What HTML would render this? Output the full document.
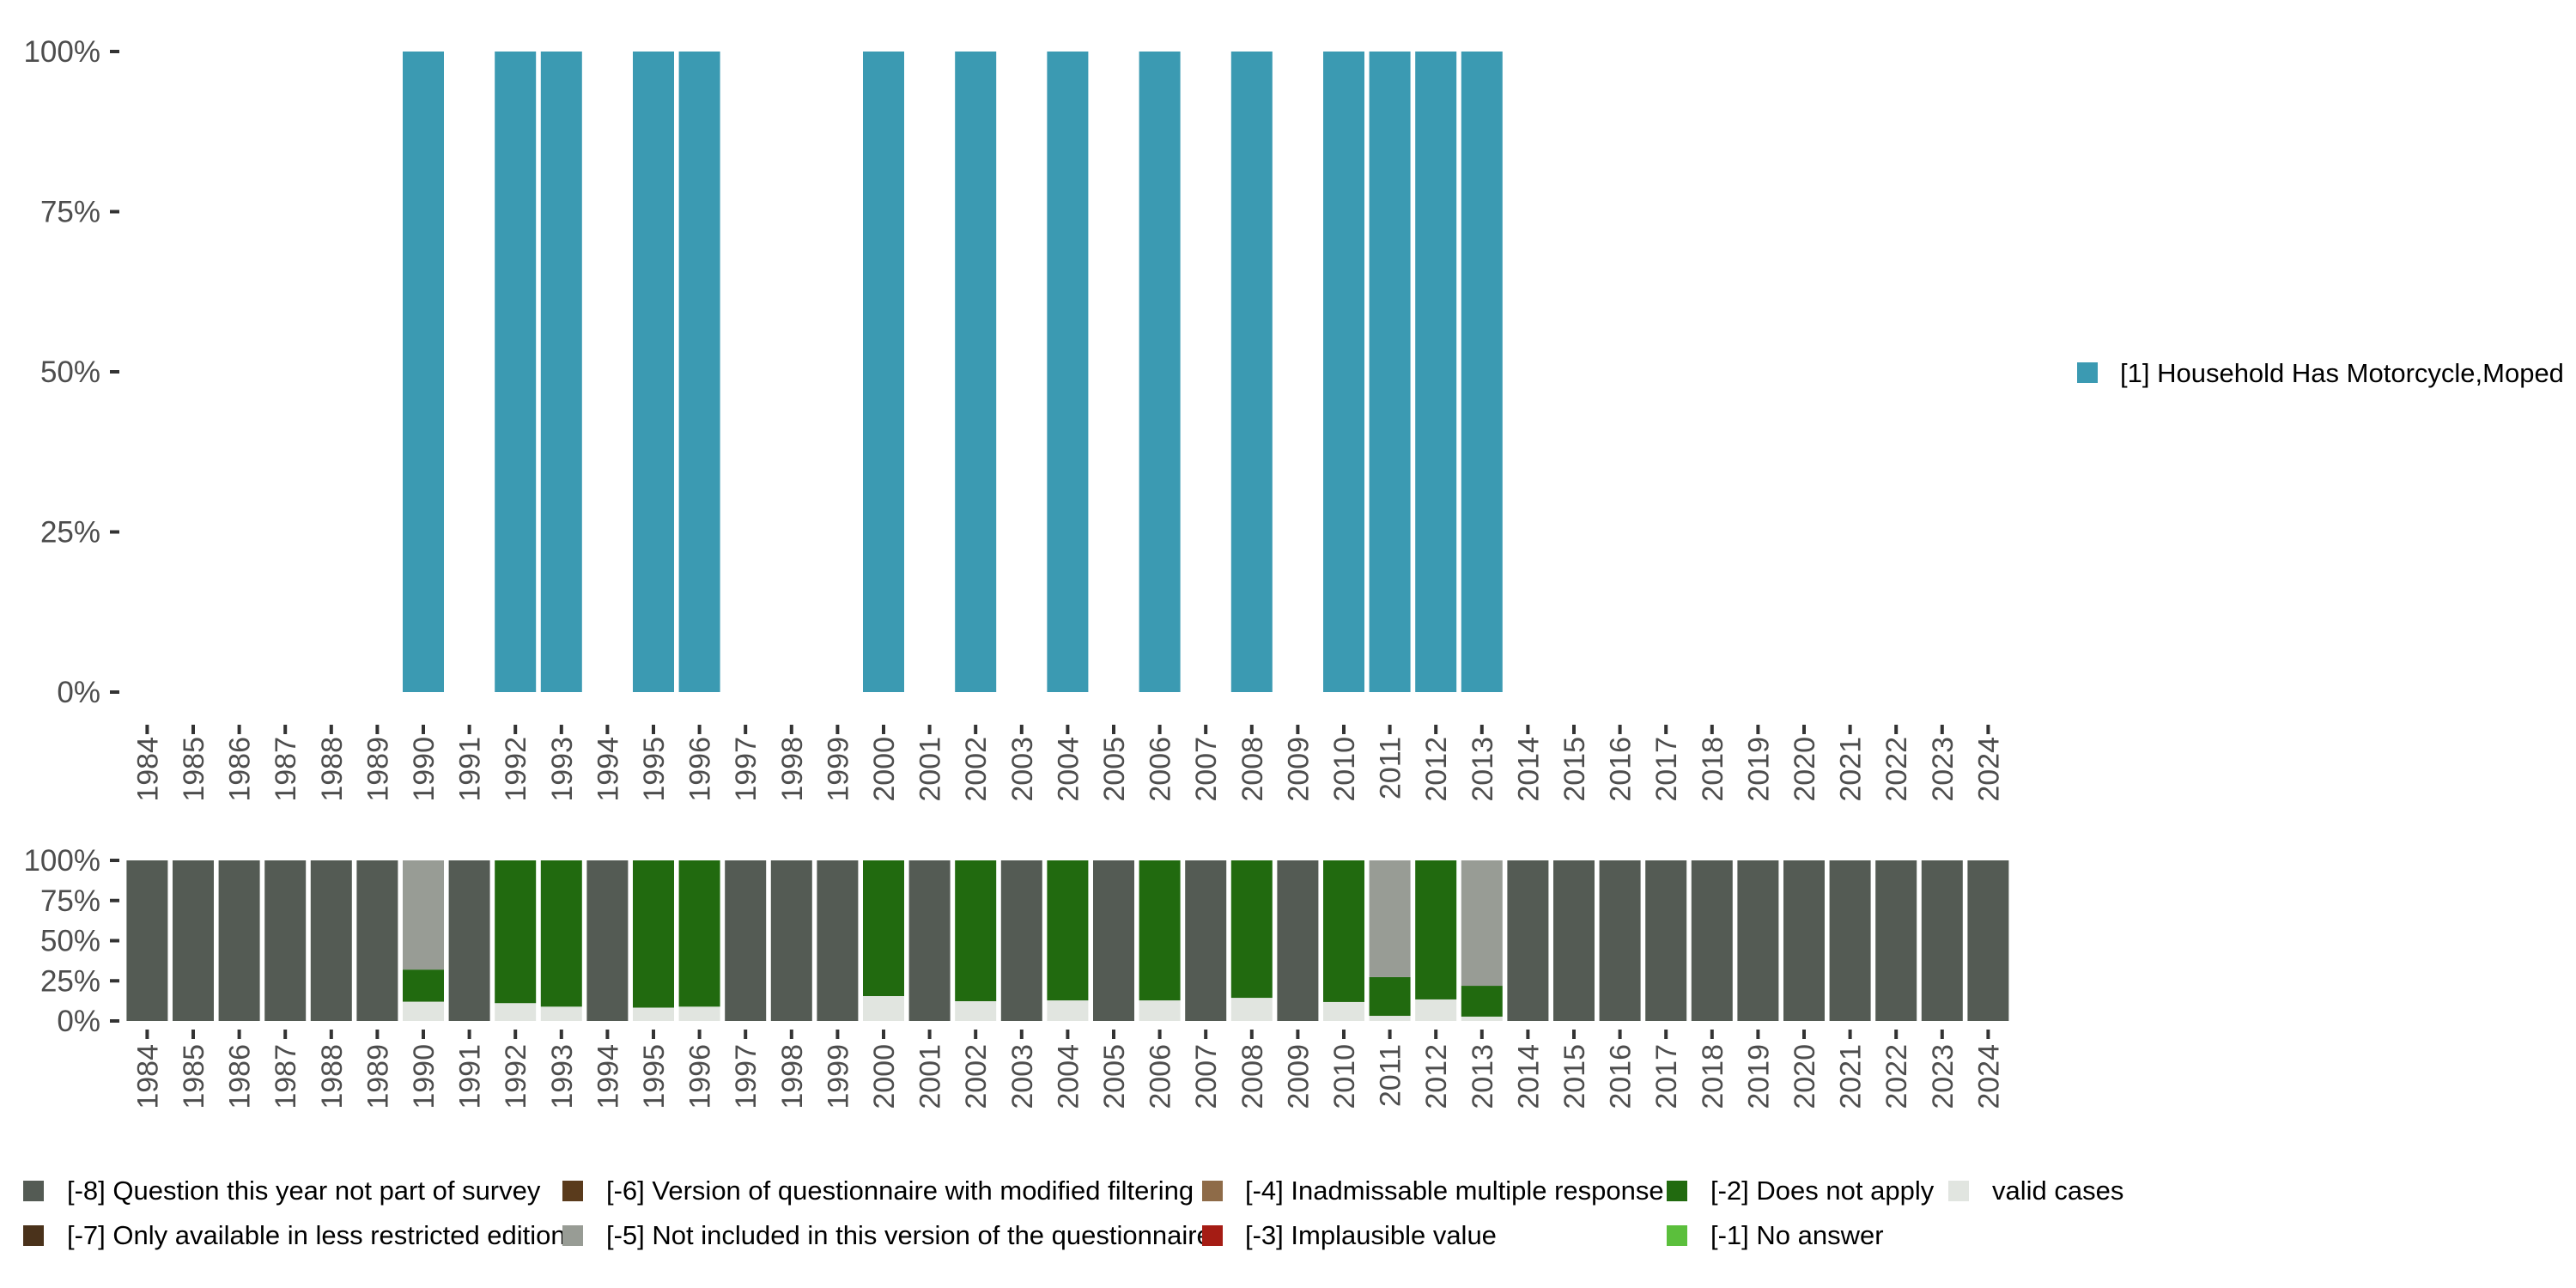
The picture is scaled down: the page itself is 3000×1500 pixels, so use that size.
<!DOCTYPE html>
<html><head><meta charset="utf-8"><style>
html,body{margin:0;padding:0;background:#fff;}
svg{display:block;font-family:"Liberation Sans","DejaVu Sans",sans-serif;}
</style></head><body>
<svg id="chart" width="3000" height="1500" viewBox="0 0 3000 1500" xmlns="http://www.w3.org/2000/svg">
<g id="top"></g>
<g id="bot"></g>
<g id="leg"></g>
</svg>
<script>
const years = [];
for (let y = 1984; y <= 2024; y++) years.push(y);
const yTicks = [0, 25, 50, 75, 100];
const yTickLabels = ["0%", "25%", "50%", "75%", "100%"];
const topYears = [1990,1992,1993,1995,1996,2000,2002,2004,2006,2008,2010,2011,2012,2013];
const topValues = [100,100,100,100,100,100,100,100,100,100,100,100,100,100];
const surveyYears = [1990,1992,1993,1995,1996,2000,2002,2004,2006,2008,2010,2011,2012,2013];
const validVals = [12,11.1,8.9,8.3,8.9,15.5,12.3,12.8,12.8,14.4,11.8,3.2,13.4,2.7];
const doesNotApplyVals = [20,88.9,91.1,91.7,91.1,84.5,87.7,87.2,87.2,85.6,88.2,24.1,86.6,19.2];
const notIncludedVals = [68,0,0,0,0,0,0,0,0,0,0,72.7,0,78.1];
const legendLabels = ["[-8] Question this year not part of survey","[-7] Only available in less restricted edition","[-6] Version of questionnaire with modified filtering","[-5] Not included in this version of the questionnaire","[-4] Inadmissable multiple response","[-3] Implausible value","[-2] Does not apply","[-1] No answer","valid cases"];
const legendColors = ["#545b54","#4a321b","#5a3b1c","#989c95","#8e6b48","#a51c14","#216a0f","#5bbf3c","#e1e5e0"];

const NS = "http://www.w3.org/2000/svg";
function mk(tag, attrs, parent){const e=document.createElementNS(NS,tag);for(const k in attrs)e.setAttribute(k,attrs[k]);parent.appendChild(e);return e;}
const xC = y => 171.4 + (y-1984)*53.6;
const BW = 48;
function yScale(top,bot){return v => bot - (bot-top)*v/100;}
const tickCol="#333", labCol="#4d4d4d";

function axes(g, ys, top, bot, tickTop, labY){
  yTicks.forEach((t,i)=>{
    const y=ys(t);
    const l=mk("line",{x1:128,x2:139,y1:y,y2:y,stroke:tickCol,"stroke-width":4},g);
    
    
    const tx=mk("text",{x:117,y:y+12,"text-anchor":"end","font-size":35,fill:labCol},g);
    tx.textContent=yTickLabels[i];
    
    
  });
  years.forEach(yr=>{
    const x=xC(yr);
    const l=mk("line",{x1:x,x2:x,y1:tickTop,y2:tickTop+11,stroke:tickCol,"stroke-width":4},g);
    
    
    const tx=mk("text",{x:0,y:0,"text-anchor":"end","font-size":34,fill:labCol,transform:`translate(${x+12},${labY}) rotate(-90)`},g);
    tx.textContent=yr;
    
    
  });
}

// top panel
const gt=document.getElementById("top");
const ysT=yScale(60,806);
topYears.forEach((yr,i)=>{
  const r=mk("rect",{x:xC(yr)-BW/2,y:ysT(topValues[i]),width:BW,height:ysT(0)-ysT(topValues[i]),fill:"#3b9ab2"},gt);
  
  
});
axes(gt,ysT,60,806,844,858);

// bottom panel
const gb=document.getElementById("bot");
const ysB=yScale(1002,1189);
years.forEach(yr=>{
  const idx=surveyYears.indexOf(yr);
  let segs;
  if(idx<0) segs=[[100,legendColors[0],'missing']];
  else segs=[[validVals[idx],legendColors[8],'valid'],[doesNotApplyVals[idx],legendColors[6],'does-not-apply'],[notIncludedVals[idx],legendColors[3],'not-included']];
  let acc=0;
  segs.forEach(s=>{
    if(s[0]<=0)return;
    const r=mk("rect",{x:xC(yr)-BW/2,y:ysB(acc+s[0]),width:BW,height:ysB(acc)-ysB(acc+s[0]),fill:s[1]},gb);
    
    
    acc+=s[0];
  });
});
axes(gb,ysB,1002,1189,1199,1216);

// legends
const gl=document.getElementById("leg");
const ls=mk("rect",{x:2419,y:422,width:24,height:24,fill:"#3b9ab2"},gl);


const lt=mk("text",{x:2469,y:445,"font-size":31,fill:"#000"},gl);
lt.textContent="[1] Household Has Motorcycle,Moped";



const colSq=[27,655,1400,1941,2269], colTx=[78,706,1450,1992,2320];
legendLabels.forEach((lab,i)=>{
  const c=Math.floor(i/2), r=i%2;
  const cy= r===0?1387:1439;
  const sq=mk("rect",{x:colSq[c],y:cy-12,width:24,height:24,fill:legendColors[i]},gl);
  
  
  const t=mk("text",{x:colTx[c],y:cy+10,"font-size":31,fill:"#000"},gl);
  t.textContent=lab;
  
  
});
</script>
</body></html>
